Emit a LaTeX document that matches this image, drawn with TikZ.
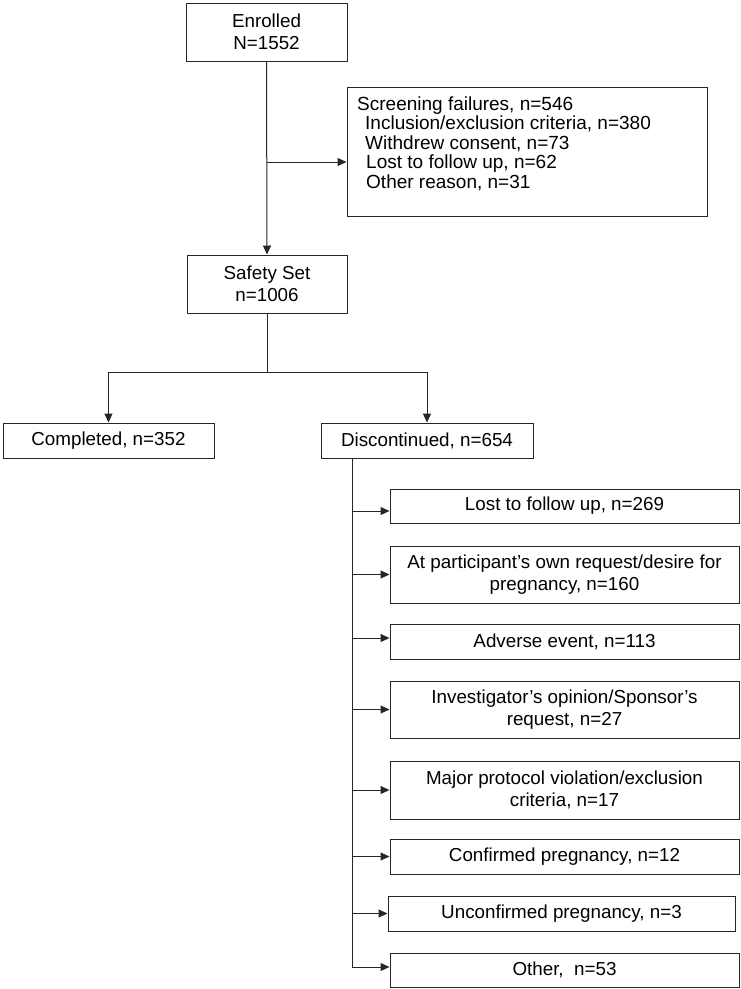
\documentclass[tikz,border=0pt]{standalone}
\usepackage{fontspec}
\setmainfont{Liberation Sans}
\usetikzlibrary{arrows.meta,calc}
\begin{document}
\begin{tikzpicture}[x=1pt,y=-1pt,
  txt/.style={font=\fontsize{18.8}{22}\selectfont},
  box/.style={txt, draw=black!85, line width=1pt, align=center, inner sep=0pt},
  conn/.style={draw=black!85, line width=1pt},
  arr/.style={conn, -{Triangle[length=9pt,width=8pt]}}
]
\useasboundingbox (0,0) rectangle (741,989);

% main column
\node[box, minimum width=161pt, minimum height=58pt] (enr) at (266.5,32) {Enrolled\\N=1552};
\node[box, minimum width=360pt, minimum height=129pt] (scr) at (527,151.5) {};
\node[txt, anchor=west, align=left, inner sep=0pt, font=\fontsize{19}{19.5}\selectfont] (scrtxt) at (357,143.5)
  {Screening failures, n=546\\
   \hspace*{8pt}Inclusion/exclusion criteria, n=380\\
   \hspace*{8pt}Withdrew consent, n=73\\
   \hspace*{9pt}Lost to follow up, n=62\\
   \hspace*{9pt}Other reason, n=31};
\node[box, minimum width=160pt, minimum height=58pt] (saf) at (267,284) {Safety Set\\n=1006};

\node[box, minimum width=211pt, minimum height=35pt] (comp) at (108.5,440.5) {Completed, n=352};
\node[box, minimum width=212pt, minimum height=35pt] (disc) at (427,440.5) {Discontinued, n=654};

% reasons
\node[box, minimum width=349pt, minimum height=34pt] (r1) at (564.5,506) {Lost to follow up, n=269};
\node[box, minimum width=349pt, minimum height=57pt] (r2) at (564.5,574.5) {At participant’s own request/desire for\\pregnancy, n=160};
\node[box, minimum width=349pt, minimum height=35pt] (r3) at (564.5,641.5) {Adverse event, n=113};
\node[box, minimum width=349pt, minimum height=57pt] (r4) at (564.5,709.5) {Investigator’s opinion/Sponsor’s\\request, n=27};
\node[box, minimum width=349pt, minimum height=58pt] (r5) at (564.5,790) {Major protocol violation/exclusion\\criteria, n=17};
\node[box, minimum width=349pt, minimum height=35pt] (r6) at (564.5,856.5) {Confirmed pregnancy, n=12};
\node[box, minimum width=347pt, minimum height=35pt] (r7) at (561.5,913.5) {Unconfirmed pregnancy, n=3};
\node[box, minimum width=349pt, minimum height=34pt] (r8) at (564.5,970) {Other,\ \ n=53};

% connectors
\draw[arr] (enr.south) -- (saf.north);
\coordinate (scrbr) at (267,162);
\draw[arr] (scrbr) -- (scrbr -| scr.west);

\coordinate (split) at (267,372);
\draw[conn] (saf.south) -- (split);
\draw[arr] (split) -| (comp.north);
\draw[arr] (split) -| (disc.north);

\coordinate (trunk) at (352,458);
\draw[arr] (trunk) |- ([yshift=3pt]r8.west);
\draw[arr] ([yshift=-5pt]r1.west -| trunk) -- ([yshift=-5pt]r1.west);
\draw[arr] (r2.west -| trunk) -- (r2.west);
\draw[arr] ([yshift=3.5pt]r3.west -| trunk) -- ([yshift=3.5pt]r3.west);
\draw[arr] (r4.west -| trunk) -- (r4.west);
\draw[arr] (r5.west -| trunk) -- (r5.west);
\draw[arr] (r6.west -| trunk) -- (r6.west);
\draw[arr] (r7.west -| trunk) -- (r7.west);
\end{tikzpicture}
\end{document}
